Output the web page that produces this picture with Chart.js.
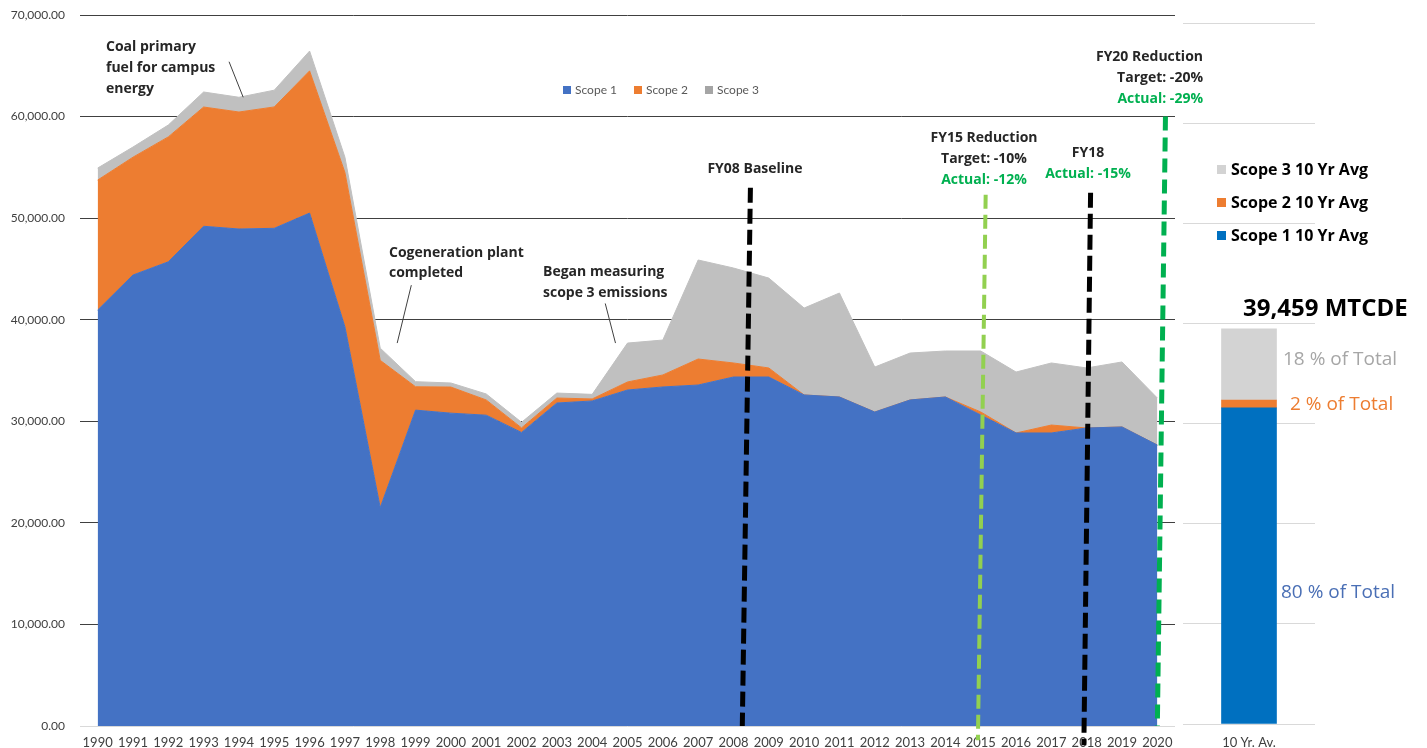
<!DOCTYPE html>
<html>
<head>
<meta charset="utf-8">
<script src="https://cdn.jsdelivr.net/npm/chart.js@4.4.1/dist/chart.umd.min.js"></script>
<style>
  html, body { margin: 0; padding: 0; background: #fff; overflow: hidden; }
  #wrap { position: relative; width: 1427px; height: 748px; }
  #mainChart { position: absolute; left: 0; top: 0; }
  #avgChart { position: absolute; left: 1180px; top: 0; }
</style>
</head>
<body>
<div id="wrap">
  <canvas id="mainChart" width="1427" height="748"></canvas>
  <canvas id="avgChart" width="247" height="748"></canvas>
</div>
<script>
// Data (MTCDE per fiscal year)

var years = ['1990', '1991', '1992', '1993', '1994', '1995', '1996', '1997', '1998', '1999',
             '2000', '2001', '2002', '2003', '2004', '2005', '2006', '2007', '2008', '2009',
             '2010', '2011', '2012', '2013', '2014', '2015', '2016', '2017', '2018', '2019', '2020'];

var scope1 = [40950, 44400, 45700, 49200, 48930, 49000, 50500, 39300, 21500, 31100,
              30800, 30600, 28900, 31800, 32000, 33080, 33380, 33570, 34360, 34360,
              32590, 32390, 30910, 32100, 32390, 30620, 28850, 28850, 29340, 29440, 27660];

var scope2 = [12800, 11600, 12300, 11740, 11520, 11950, 14000, 15200, 14500, 2300,
              2570, 1500, 450, 490, 200, 790, 1180, 2560, 1380, 890,
              0, 0, 0, 0, 0, 300, 0, 780, 0, 0, 0];

var scope3 = [1180, 1000, 1170, 1480, 1450, 1650, 1950, 1500, 1200, 500,
              400, 590, 550, 490, 450, 3830, 3440, 9750, 9350, 8850,
              8560, 10240, 4430, 4620, 4530, 6000, 6000, 6110, 5910, 6400, 4630];

var markerYears = ['2008', '2015', '2018', '2020'];

// 10 year average bar
var avgLabels = ['10 Yr. Av.'];
var scope1Avg = [31567];
var scope2Avg = [789];
var scope3Avg = [7103];

// Helpers

var boldFont = '"Open Sans", sans-serif';

function xAt(chart, idx) {
    var x = chart.scales.x;
    var step = x.getPixelForValue(1) - x.getPixelForValue(0);
    return x.getPixelForValue(0) + idx * step;
}

function drawLines(ctx, lines, x, font, align) {
    ctx.font = font;
    ctx.textAlign = align;
    ctx.textBaseline = 'middle';
    for (let i = 0; i < lines.length; i++) {
        ctx.fillStyle = lines[i][2] || '#262626';
        ctx.fillText(lines[i][0], x, lines[i][1]);
    }
}

// Main chart annotations

var markerStyles = [
    { color: '#000000', width: 5, dash: [15, 6], top: 53000, bottom: 0, leanTop: 0.48, leanBottom: 0.25 },
    { color: '#92D050', width: 4, dash: [14, 6], top: 52300, bottom: -1400, leanTop: 0.14, leanBottom: -0.08 },
    { color: '#000000', width: 5, dash: [15, 6], top: 52500, bottom: -1900, leanTop: 0.11, leanBottom: -0.08 },
    { color: '#00B050', width: 5, dash: [14, 7], top: 60000, bottom: 0, leanTop: 0.23, leanBottom: 0 }
];

// leader lines: [fromIndex, fromValue, toIndex, toValue]
var leaders = [
    [3.72, 65400, 4.12, 61900],
    [8.88, 43400, 8.48, 37700],
    [14.37, 41600, 14.66, 37700]
];

var mainAnnotations = {
    id: 'mainAnnotations',
    afterDraw: function (chart) {
        var ctx = chart.ctx;
        var y = chart.scales.y;
        ctx.save();

        // dashed marker lines
        for (let i = 0; i < markerYears.length; i++) {
            var s = markerStyles[i];
            var idx = years.indexOf(markerYears[i]);
            ctx.beginPath();
            ctx.setLineDash(s.dash);
            ctx.lineWidth = s.width;
            ctx.strokeStyle = s.color;
            ctx.moveTo(xAt(chart, idx + s.leanTop), y.getPixelForValue(s.top));
            ctx.lineTo(xAt(chart, idx + s.leanBottom), y.getPixelForValue(s.bottom));
            ctx.stroke();
        }
        ctx.setLineDash([]);

        // leader lines
        ctx.lineWidth = 1;
        ctx.strokeStyle = '#404040';
        for (let i = 0; i < leaders.length; i++) {
            var l = leaders[i];
            ctx.beginPath();
            ctx.moveTo(xAt(chart, l[0]), y.getPixelForValue(l[1]));
            ctx.lineTo(xAt(chart, l[2]), y.getPixelForValue(l[3]));
            ctx.stroke();
        }

        // notes
        var f = 'bold 14px ' + boldFont;
        var green = '#00B050';
        drawLines(ctx, [['Coal primary', 47], ['fuel for campus', 68], ['energy', 89]], 106, f, 'left');
        drawLines(ctx, [['Cogeneration plant', 253], ['completed', 273]], 389, f, 'left');
        drawLines(ctx, [['Began measuring', 272], ['scope 3 emissions', 293]], 543, f, 'left');
        drawLines(ctx, [['FY08 Baseline', 169]], 755, f, 'center');
        drawLines(ctx, [['FY15 Reduction', 138], ['Target: -10%', 159], ['Actual: -12%', 180, green]], 984, f, 'center');
        drawLines(ctx, [['FY18', 153], ['Actual: -15%', 174, green]], 1088, f, 'center');
        drawLines(ctx, [['FY20 Reduction', 57], ['Target: -20%', 78], ['Actual: -29%', 99, green]], 1203, f, 'right');

        // legend
        ctx.font = '12px Lato';
        ctx.textAlign = 'left';
        ctx.textBaseline = 'middle';
        var lx = 563;
        chart.data.datasets.forEach(function (ds) {
            ctx.fillStyle = ds.legendColor;
            ctx.fillRect(lx, 86, 8, 8);
            ctx.fillStyle = '#595959';
            ctx.fillText(ds.label, lx + 12, 90);
            lx += 12 + ctx.measureText(ds.label).width + 17;
        });

        ctx.restore();
    }
};

var mainCtx = document.getElementById('mainChart').getContext('2d');
var mainChart = new Chart(mainCtx, {
    type: 'line',
    data: {
        labels: years,
        datasets: [{
                label: 'Scope 1',
                data: scope1,
                backgroundColor: '#4472C4',
                borderColor: '#4472C4',
                legendColor: '#4472C4',
                fill: 'origin',
            },
            {
                label: 'Scope 2',
                data: scope2,
                backgroundColor: '#ED7D31',
                borderColor: '#ED7D31',
                legendColor: '#ED7D31',
                fill: '-1',
            },
            {
                label: 'Scope 3',
                data: scope3,
                backgroundColor: '#C0C0C0',
                borderColor: '#C0C0C0',
                legendColor: '#A5A5A5',
                fill: '-1',
            }
        ]
    },
    options: {
        responsive: false,
        animation: false,
        devicePixelRatio: 1,
        elements: {
            line: { tension: 0, borderWidth: 1 },
            point: { radius: 0 }
        },
        layout: { padding: { top: 15, right: 252, left: 0, bottom: 0 } },
        plugins: {
            legend: { display: false },
            tooltip: { enabled: false }
        },
        scales: {
            x: {
                offset: true,
                grid: { display: false, drawTicks: false },
                border: { display: false },
                ticks: {
                    autoSkip: false,
                    maxRotation: 0,
                    padding: 9,
                    color: '#404040',
                    font: { family: 'Lato', size: 13 }
                },
                afterFit: function (scale) { scale.height = 22; }
            },
            y: {
                stacked: true,
                min: 0,
                max: 70000,
                border: { display: false },
                grid: {
                    drawTicks: false,
                    color: function (c) { return c.tick && c.tick.value === 0 ? '#D9D9D9' : '#404040'; }
                },
                ticks: {
                    stepSize: 10000,
                    padding: 15,
                    color: '#404040',
                    font: { family: 'Lato', size: 12 },
                    callback: function (v) {
                        return Number(v).toLocaleString('en-US', { minimumFractionDigits: 2, maximumFractionDigits: 2 });
                    }
                },
                afterFit: function (scale) {
                    scale.width = 80;
                    scale.paddingTop = 0;
                    scale.paddingBottom = 0;
                }
            }
        }
    },
    plugins: [mainAnnotations]
});

// 10 year average panel

var avgAnnotations = {
    id: 'avgAnnotations',
    afterDraw: function (chart) {
        var ctx = chart.ctx;
        ctx.save();

        // legend, top item is last dataset
        ctx.font = 'bold 16px ' + boldFont;
        ctx.textAlign = 'left';
        ctx.textBaseline = 'middle';
        var ds = chart.data.datasets;
        for (let i = ds.length - 1, row = 0; i >= 0; i--, row++) {
            var ly = 170 + row * 33;
            ctx.fillStyle = ds[i].backgroundColor;
            ctx.fillRect(37, ly - 5, 9, 9);
            ctx.fillStyle = '#000000';
            ctx.fillText(ds[i].label, 51, ly);
        }

        // total
        var total = scope1Avg[0] + scope2Avg[0] + scope3Avg[0];
        ctx.font = 'bold 24px ' + boldFont;
        ctx.fillStyle = '#000000';
        ctx.fillText(total.toLocaleString('en-US') + ' MTCDE', 63, 309);

        // shares
        ctx.font = '19px ' + boldFont;
        ctx.fillStyle = '#A6A6A6';
        ctx.fillText(Math.round(scope3Avg[0] / total * 100) + ' % of Total', 103, 360);
        ctx.fillStyle = '#ED7D31';
        ctx.fillText(Math.round(scope2Avg[0] / total * 100) + ' % of Total', 110, 405);
        ctx.fillStyle = '#4A6FB5';
        ctx.fillText(Math.round(scope1Avg[0] / total * 100) + ' % of Total', 101, 593);

        ctx.restore();
    }
};

var avgCtx = document.getElementById('avgChart').getContext('2d');
var avgChart = new Chart(avgCtx, {
    type: 'bar',
    data: {
        labels: avgLabels,
        datasets: [{
                label: 'Scope 1 10 Yr Avg',
                data: scope1Avg,
                backgroundColor: '#0070C0',
            },
            {
                label: 'Scope 2 10 Yr Avg',
                data: scope2Avg,
                backgroundColor: '#ED7D31',
            },
            {
                label: 'Scope 3 10 Yr Avg',
                data: scope3Avg,
                backgroundColor: '#D3D3D3',
            }
        ]
    },
    options: {
        responsive: false,
        animation: false,
        devicePixelRatio: 1,
        datasets: { bar: { barThickness: 55 } },
        layout: { padding: { top: 23, right: 112, left: 3, bottom: 0 } },
        plugins: {
            legend: { display: false },
            tooltip: { enabled: false }
        },
        scales: {
            x: {
                stacked: true,
                grid: { display: false, drawTicks: false },
                border: { display: false },
                ticks: {
                    maxRotation: 0,
                    padding: 11,
                    color: '#404040',
                    font: { family: 'Lato', size: 13 }
                },
                afterFit: function (scale) { scale.height = 24; }
            },
            y: {
                stacked: true,
                min: 0,
                max: 70000,
                border: { display: false },
                grid: { color: '#D9D9D9', drawTicks: false },
                ticks: { display: false, stepSize: 10000 },
                afterFit: function (scale) { scale.width = 0; }
            }
        }
    },
    plugins: [avgAnnotations]
});
</script>
</body>
</html>
